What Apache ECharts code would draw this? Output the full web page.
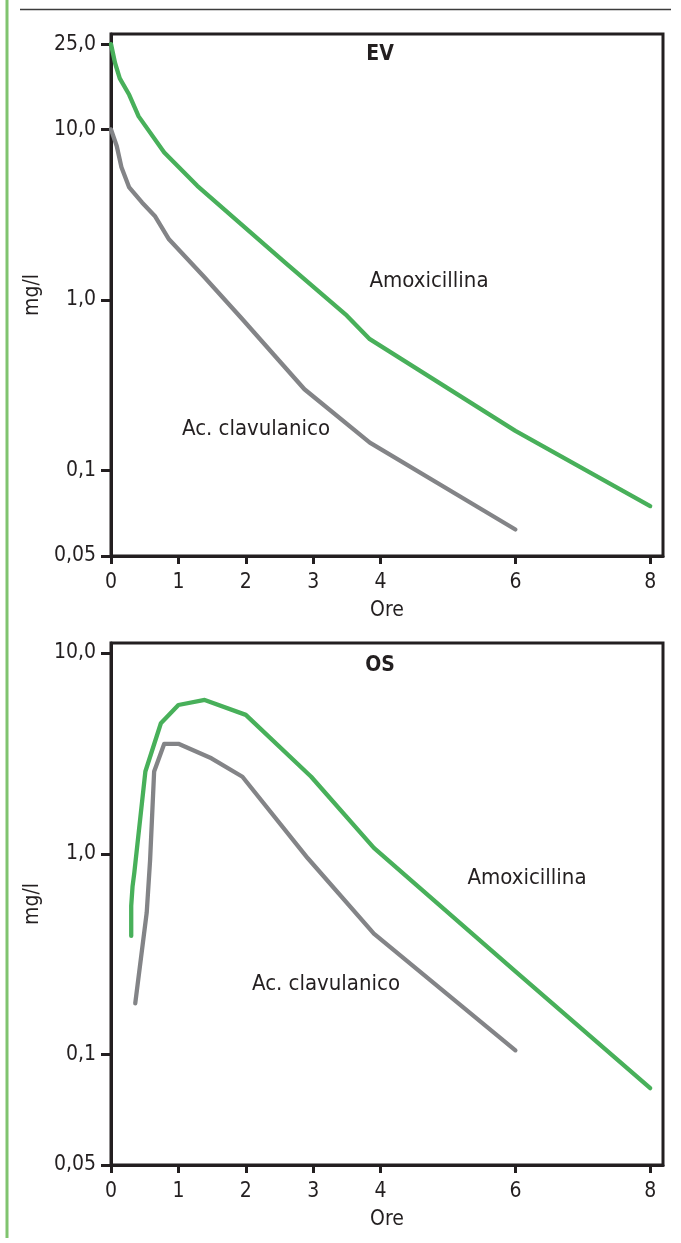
<!DOCTYPE html>
<html><head><meta charset="utf-8">
<script src="https://cdn.jsdelivr.net/npm/echarts@6/dist/echarts.min.js"></script>
<style>html,body{margin:0;padding:0;background:#fff}#c{width:681px;height:1243px}</style>
</head><body><div id="c"></div><script>
// ---------- data ----------
const X_TICKS = [0, 1, 2, 3, 4, 6, 8];

const EV_Y_TICKS  = [0.05, 0.1, 1, 10, 25];
const EV_Y_LABELS = ['0,05', '0,1', '1,0', '10,0', '25,0'];
const OS_Y_TICKS  = [0.05, 0.1, 1, 10];
const OS_Y_LABELS = ['0,05', '0,1', '1,0', '10,0'];

// EV panel (intravenous)
const EV_AMOX_TIME = [0, 0.06, 0.13, 0.27, 0.41, 0.79, 1.28, 1.9, 2.58, 3.5, 3.84, 6, 8];
const EV_AMOX      = [25, 20.4, 17.3, 14.5, 11.5, 7.33, 4.67, 2.85, 1.66, 0.81, 0.59, 0.171, 0.075];
const EV_CLAV_TIME = [0, 0.085, 0.155, 0.27, 0.46, 0.65, 0.86, 1.38, 1.94, 2.87, 3.84, 6];
const EV_CLAV      = [10, 8.0, 6.0, 4.57, 3.73, 3.11, 2.27, 1.37, 0.78, 0.30, 0.146, 0.062];

// OS panel (oral)
const OS_AMOX_TIME = [0.30, 0.30, 0.32, 0.345, 0.51, 0.74, 1.0, 1.39, 2.0, 2.97, 3.9, 6, 8];
const OS_AMOX      = [0.39, 0.55, 0.69, 0.80, 2.57, 4.47, 5.51, 5.84, 4.92, 2.42, 1.07, 0.26, 0.081];
const OS_CLAV_TIME = [0.36, 0.53, 0.58, 0.64, 0.79, 1.0, 1.49, 1.95, 2.92, 3.9, 6];
const OS_CLAV      = [0.18, 0.51, 0.93, 2.57, 3.53, 3.53, 2.99, 2.42, 0.95, 0.40, 0.105];

// ---------- stylised (broken) log axis: where each labelled tick sits, in decades ----------
const EV_Y_STEPS = [-1.5, -1, 0, 1, 1.5];
const EV_Y_TOP = 1.559;
const OS_Y_STEPS = [-1.55, -1, 0, 1];
const OS_Y_TOP = 1.05;

function axisPos(c, ticks, steps) {
  let i = 0;
  while (i < ticks.length - 2 && c > ticks[i + 1]) i++;
  const f = Math.log(c / ticks[i]) / Math.log(ticks[i + 1] / ticks[i]);
  return steps[i] + f * (steps[i + 1] - steps[i]);
}
function toSeries(times, vals, ticks, steps) {
  return times.map((t, i) => [t, axisPos(vals[i], ticks, steps)]);
}

// ---------- styling ----------
const FONT = '"Liberation Sans Narrow","DejaVu Sans Condensed","Roboto Condensed",Roboto,sans-serif';
const INK = '#231f20';
const GREEN = '#48b05a';
const GREY = '#838487';

function xAxis(gi) {
  return {
    type: 'value', gridIndex: gi, min: 0, max: 8.19,
    axisLine: { show: true, onZero: false, lineStyle: { color: INK, width: 3 } },
    axisTick: { show: true, length: 8, customValues: X_TICKS, lineStyle: { color: INK, width: 3 } },
    axisLabel: { customValues: X_TICKS, formatter: v => String(v), color: INK, fontFamily: FONT, fontSize: 21, margin: 16 },
    splitLine: { show: false },
    name: 'Ore', nameLocation: 'middle', nameGap: 44,
    nameTextStyle: { color: INK, fontFamily: FONT, fontSize: 21 }
  };
}
function yAxis(gi, steps, labels, top) {
  return {
    type: 'value', gridIndex: gi, min: steps[0], max: top,
    axisLine: { show: true, onZero: false, lineStyle: { color: INK, width: 3 } },
    axisTick: { show: true, length: 10, customValues: steps, lineStyle: { color: INK, width: 3 } },
    axisLabel: {
      customValues: steps,
      formatter: v => { const i = steps.findIndex(s => Math.abs(s - v) < 1e-6); return i >= 0 ? labels[i] : ''; },
      color: INK, fontFamily: FONT, fontSize: 21, margin: 15
    },
    splitLine: { show: false },
    name: 'mg/l', nameLocation: 'middle', nameGap: 47,
    nameTextStyle: { color: INK, fontFamily: FONT, fontSize: 21 }
  };
}
function line(gi, data, color) {
  return {
    type: 'line', xAxisIndex: gi, yAxisIndex: gi, data, showSymbol: false, clip: false,
    lineStyle: { color, width: 4.3, cap: 'round', join: 'round' }, silent: true
  };
}
function label(text, x, y, bold, size) {
  return {
    type: 'text', x, y,
    style: { text, fill: INK, font: (bold ? 'bold ' : '') + size + 'px ' + FONT, align: 'center', verticalAlign: 'middle' }
  };
}

const chart = echarts.init(document.getElementById('c'), null, { renderer: 'canvas' });
chart.setOption({
  animation: false,
  backgroundColor: '#fff',
  grid: [
    { left: 111, right: 18, top: 34, height: 522, show: true, borderColor: INK, borderWidth: 3, backgroundColor: 'transparent' },
    { left: 111, right: 18, top: 643, height: 522, show: true, borderColor: INK, borderWidth: 3, backgroundColor: 'transparent' }
  ],
  xAxis: [xAxis(0), xAxis(1)],
  yAxis: [yAxis(0, EV_Y_STEPS, EV_Y_LABELS, EV_Y_TOP), yAxis(1, OS_Y_STEPS, OS_Y_LABELS, OS_Y_TOP)],
  series: [
    line(0, toSeries(EV_CLAV_TIME, EV_CLAV, EV_Y_TICKS, EV_Y_STEPS), GREY),
    line(0, toSeries(EV_AMOX_TIME, EV_AMOX, EV_Y_TICKS, EV_Y_STEPS), GREEN),
    line(1, toSeries(OS_CLAV_TIME, OS_CLAV, OS_Y_TICKS, OS_Y_STEPS), GREY),
    line(1, toSeries(OS_AMOX_TIME, OS_AMOX, OS_Y_TICKS, OS_Y_STEPS), GREEN)
  ],
  graphic: [
    { type: 'rect', shape: { x: 5.5, y: 0, width: 3, height: 1238 }, style: { fill: '#80c46f' } },
    { type: 'line', shape: { x1: 20, y1: 9.5, x2: 671, y2: 9.5 }, style: { stroke: '#3c3c3c', lineWidth: 1.5 } },
    label('EV', 380, 55, true, 21),
    label('Amoxicillina', 429, 281, false, 22),
    label('Ac. clavulanico', 256, 429, false, 22),
    label('OS', 380, 666, true, 21),
    label('Amoxicillina', 527, 878, false, 22),
    label('Ac. clavulanico', 326, 984, false, 22)
  ]
});
</script></body></html>
